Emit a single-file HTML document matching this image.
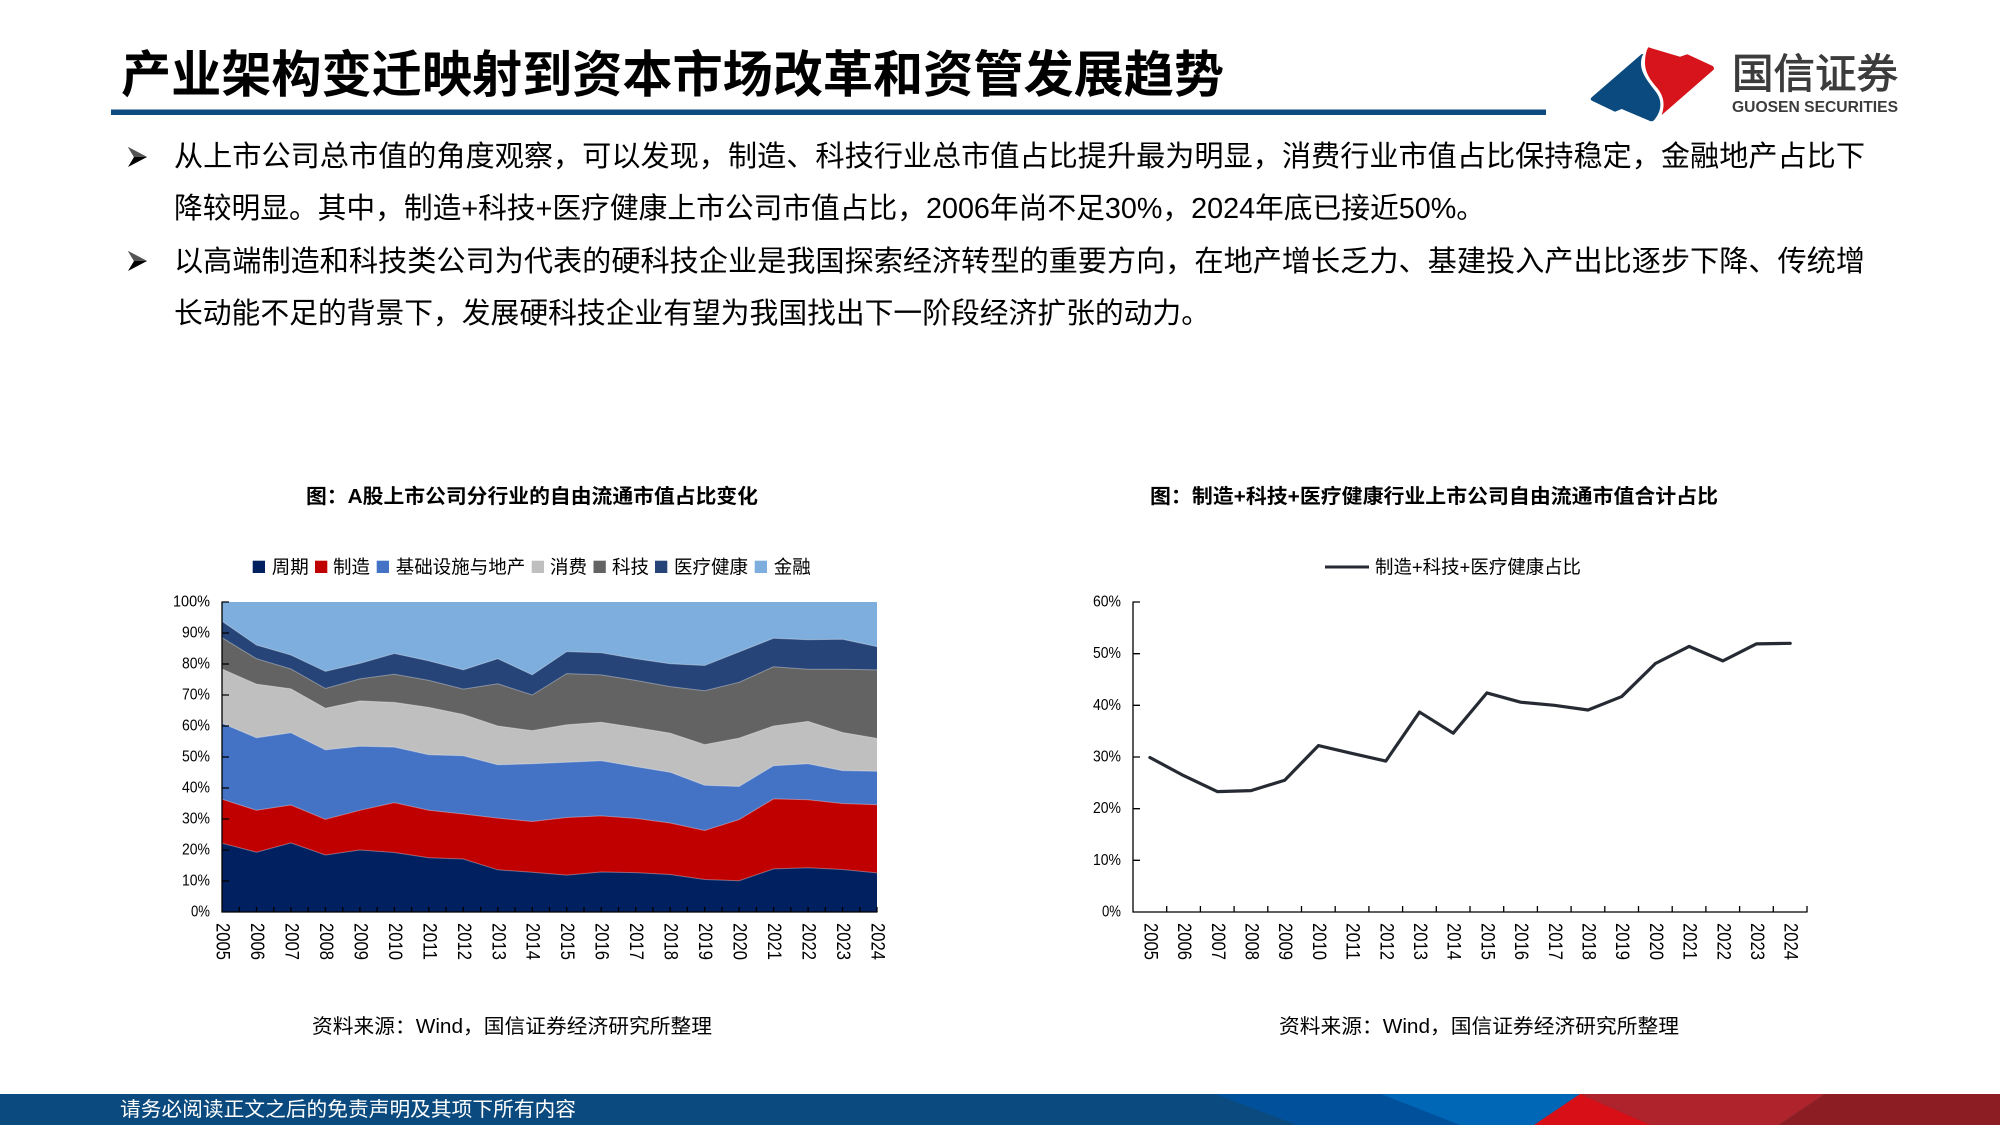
<!DOCTYPE html>
<html>
<head>
<meta charset="utf-8">
<style>
html,body{margin:0;padding:0;background:#fff;}
svg{display:block;}
text{font-family:"Liberation Sans","Noto Sans CJK SC",sans-serif;}
</style>
</head>
<body>
<svg width="2000" height="1125" viewBox="0 0 2000 1125" xmlns="http://www.w3.org/2000/svg">
<rect x="0" y="0" width="2000" height="1125" fill="#ffffff"/>

<!-- Title -->
<text x="121" y="75" font-size="50" font-weight="bold" fill="#000" dominant-baseline="central" textLength="1103" lengthAdjust="spacingAndGlyphs">产业架构变迁映射到资本市场改革和资管发展趋势</text>
<rect x="111" y="109.5" width="1435" height="5.5" fill="#0C4A80"/>

<!-- Logo -->
<path d="M1641.7,54 L1591.7,97.3 Q1589.5,99.5 1592,100.7 L1615,111.7 L1621.7,109 L1650,121 Q1653,122 1655,119 C1662,110 1662,100 1656,92 C1650,84 1641,74 1641,64 C1641,59 1642,56 1643.3,54 Z" fill="#0B4A7E"/>
<path d="M1648.3,47.3 L1680,56.7 L1687.3,54.3 L1712.7,66 Q1715,68 1713.3,70 L1661.7,115 C1665,105 1664,97 1658,89 C1651,81 1645,73 1645,63 C1645,57 1646,51 1648.3,47.3 Z" fill="#D7131B"/>
<text x="1732" y="74" font-size="41" fill="#3C3C3C" stroke="#3C3C3C" stroke-width="0.9" dominant-baseline="central" textLength="166" lengthAdjust="spacingAndGlyphs">国信证券</text>
<text x="1732" y="107.5" font-size="15.5" font-weight="bold" fill="#3C3C3C" dominant-baseline="central" textLength="166" lengthAdjust="spacingAndGlyphs">GUOSEN SECURITIES</text>

<!-- Bullets -->
<g>
<polygon points="128,147 147,157 128,167 134,157" fill="#000"/>
<polygon points="128,147 147,157 134,157" fill="#555"/>
<polygon points="128,251 147,261 128,271 134,261" fill="#000"/>
<polygon points="128,251 147,261 134,261" fill="#555"/>
</g>

<!-- Body text -->
<text x="174" y="157" font-size="29" fill="#000" dominant-baseline="central" textLength="1691" lengthAdjust="spacingAndGlyphs">从上市公司总市值的角度观察，可以发现，制造、科技行业总市值占比提升最为明显，消费行业市值占比保持稳定，金融地产占比下</text>
<text x="174" y="209" font-size="29" fill="#000" dominant-baseline="central" textLength="1311" lengthAdjust="spacingAndGlyphs">降较明显。其中，制造+科技+医疗健康上市公司市值占比，2006年尚不足30%，2024年底已接近50%。</text>
<text x="174" y="262" font-size="29" fill="#000" dominant-baseline="central" textLength="1691" lengthAdjust="spacingAndGlyphs">以高端制造和科技类公司为代表的硬科技企业是我国探索经济转型的重要方向，在地产增长乏力、基建投入产出比逐步下降、传统增</text>
<text x="174" y="314" font-size="29" fill="#000" dominant-baseline="central" textLength="1036" lengthAdjust="spacingAndGlyphs">长动能不足的背景下，发展硬科技企业有望为我国找出下一阶段经济扩张的动力。</text>

<!-- ============ LEFT CHART ============ -->
<text x="306" y="497" font-size="20" font-weight="bold" fill="#000" dominant-baseline="central" textLength="452" lengthAdjust="spacingAndGlyphs">图：A股上市公司分行业的自由流通市值占比变化</text>

<!-- legend -->
<g font-size="18.5" fill="#000">
<rect x="252.7" y="560.7" width="12.3" height="12.3" fill="#002060"/>
<text x="271.7" y="567" dominant-baseline="central">周期</text>
<rect x="315" y="560.7" width="12.3" height="12.3" fill="#C00000"/>
<text x="333" y="567" dominant-baseline="central">制造</text>
<rect x="376.7" y="560.7" width="12.3" height="12.3" fill="#4472C4"/>
<text x="395.7" y="567" dominant-baseline="central">基础设施与地产</text>
<rect x="531.7" y="560.7" width="12.3" height="12.3" fill="#BFBFBF"/>
<text x="550" y="567" dominant-baseline="central">消费</text>
<rect x="593.5" y="560.7" width="12.3" height="12.3" fill="#636363"/>
<text x="612" y="567" dominant-baseline="central">科技</text>
<rect x="655" y="560.7" width="12.3" height="12.3" fill="#264478"/>
<text x="674" y="567" dominant-baseline="central">医疗健康</text>
<rect x="754.7" y="560.7" width="12.3" height="12.3" fill="#7DAEDD"/>
<text x="773.7" y="567" dominant-baseline="central">金融</text>
</g>

<!-- areas -->
<rect x="222" y="602" width="655" height="310" fill="#7DAEDD"/>
<polygon fill="#264478" points="222,621.2 256.5,645.1 290.9,655.0 325.4,671.4 359.9,663.4 394.4,653.5 428.8,660.9 463.3,669.9 497.8,658.7 532.2,674.85 566.7,651.6 601.2,652.8 635.7,658.7 670.1,663.7 704.6,665.55 739.1,651.9 773.5,638.3 808.0,639.8 842.5,639.2 877,646.6 877,912 222,912"/>
<polygon fill="#636363" points="222,637.65 256.5,658.7 290.9,669.0 325.4,688.5 359.9,678.9 394.4,674.2 428.8,680.4 463.3,689.1 497.8,683.8 532.2,695.0 566.7,673.6 601.2,674.85 635.7,680.4 670.1,686.6 704.6,690.7 739.1,682.3 773.5,666.8 808.0,669.3 842.5,669.3 877,669.9 877,912 222,912"/>
<polygon fill="#BFBFBF" points="222,668.96 256.5,684.15 290.9,688.8 325.4,708.3 359.9,700.9 394.4,702.4 428.8,707.4 463.3,714.5 497.8,726.0 532.2,730.65 566.7,724.8 601.2,722.3 635.7,727.55 670.1,733.1 704.6,744.6 739.1,738.1 773.5,726.0 808.0,721.35 842.5,732.5 877,738.4 877,912 222,912"/>
<polygon fill="#4472C4" points="222,723.2 256.5,737.8 290.9,732.8 325.4,749.9 359.9,746.2 394.4,747.1 428.8,754.8 463.3,755.8 497.8,764.75 532.2,763.8 566.7,762.3 601.2,760.7 635.7,766.6 670.1,772.2 704.6,785.2 739.1,786.45 773.5,765.7 808.0,763.8 842.5,770.6 877,771.3 877,912 222,912"/>
<polygon fill="#C00000" points="222,799.2 256.5,810.3 290.9,805.0 325.4,819.3 359.9,810.3 394.4,802.6 428.8,810.3 463.3,814.0 497.8,818.1 532.2,821.5 566.7,817.5 601.2,815.9 635.7,818.4 670.1,823.0 704.6,830.5 739.1,819.6 773.5,798.9 808.0,799.8 842.5,803.5 877,804.7 877,912 222,912"/>
<polygon fill="#002060" points="222,843.2 256.5,852.2 290.9,842.9 325.4,855.0 359.9,850.0 394.4,852.5 428.8,857.75 463.3,859.0 497.8,869.8 532.2,872.3 566.7,875.1 601.2,872.0 635.7,872.6 670.1,874.5 704.6,879.45 739.1,880.7 773.5,868.9 808.0,867.7 842.5,869.5 877,872.9 877,912 222,912"/>
<g fill="none" stroke="#ffffff" stroke-opacity="0.35" stroke-width="1">
<polyline points="222,621.2 256.5,645.1 290.9,655.0 325.4,671.4 359.9,663.4 394.4,653.5 428.8,660.9 463.3,669.9 497.8,658.7 532.2,674.85 566.7,651.6 601.2,652.8 635.7,658.7 670.1,663.7 704.6,665.55 739.1,651.9 773.5,638.3 808.0,639.8 842.5,639.2 877,646.6"/>
<polyline points="222,637.65 256.5,658.7 290.9,669.0 325.4,688.5 359.9,678.9 394.4,674.2 428.8,680.4 463.3,689.1 497.8,683.8 532.2,695.0 566.7,673.6 601.2,674.85 635.7,680.4 670.1,686.6 704.6,690.7 739.1,682.3 773.5,666.8 808.0,669.3 842.5,669.3 877,669.9"/>
<polyline points="222,668.96 256.5,684.15 290.9,688.8 325.4,708.3 359.9,700.9 394.4,702.4 428.8,707.4 463.3,714.5 497.8,726.0 532.2,730.65 566.7,724.8 601.2,722.3 635.7,727.55 670.1,733.1 704.6,744.6 739.1,738.1 773.5,726.0 808.0,721.35 842.5,732.5 877,738.4"/>
<polyline points="222,723.2 256.5,737.8 290.9,732.8 325.4,749.9 359.9,746.2 394.4,747.1 428.8,754.8 463.3,755.8 497.8,764.75 532.2,763.8 566.7,762.3 601.2,760.7 635.7,766.6 670.1,772.2 704.6,785.2 739.1,786.45 773.5,765.7 808.0,763.8 842.5,770.6 877,771.3"/>
<polyline points="222,799.2 256.5,810.3 290.9,805.0 325.4,819.3 359.9,810.3 394.4,802.6 428.8,810.3 463.3,814.0 497.8,818.1 532.2,821.5 566.7,817.5 601.2,815.9 635.7,818.4 670.1,823.0 704.6,830.5 739.1,819.6 773.5,798.9 808.0,799.8 842.5,803.5 877,804.7"/>
<polyline points="222,843.2 256.5,852.2 290.9,842.9 325.4,855.0 359.9,850.0 394.4,852.5 428.8,857.75 463.3,859.0 497.8,869.8 532.2,872.3 566.7,875.1 601.2,872.0 635.7,872.6 670.1,874.5 704.6,879.45 739.1,880.7 773.5,868.9 808.0,867.7 842.5,869.5 877,872.9"/>
</g>

<!-- left axes -->
<g stroke="#000" stroke-width="1.3" fill="none">
<line x1="222" y1="601.5" x2="222" y2="912.5"/>
<line x1="221.5" y1="912" x2="877.5" y2="912"/>
<path d="M222,602h7 M222,633h7 M222,664h7 M222,695h7 M222,726h7 M222,757h7 M222,788h7 M222,819h7 M222,850h7 M222,881h7"/>
<path d="M239.2,912v-5 M256.5,912v-5 M273.7,912v-5 M290.9,912v-5 M308.2,912v-5 M325.4,912v-5 M342.7,912v-5 M359.9,912v-5 M377.1,912v-5 M394.4,912v-5 M411.6,912v-5 M428.8,912v-5 M446.1,912v-5 M463.3,912v-5 M480.6,912v-5 M497.8,912v-5 M515.0,912v-5 M532.3,912v-5 M549.5,912v-5 M566.7,912v-5 M584.0,912v-5 M601.2,912v-5 M618.5,912v-5 M635.7,912v-5 M652.9,912v-5 M670.2,912v-5 M687.4,912v-5 M704.6,912v-5 M721.9,912v-5 M739.1,912v-5 M756.4,912v-5 M773.6,912v-5 M790.8,912v-5 M808.1,912v-5 M825.3,912v-5 M842.5,912v-5 M859.8,912v-5 M877.0,912v-5"/>
</g>
<g font-size="16" fill="#000" text-anchor="end" dominant-baseline="central">
<text x="210" y="602" textLength="37" lengthAdjust="spacingAndGlyphs">100%</text>
<text x="210" y="633" textLength="28" lengthAdjust="spacingAndGlyphs">90%</text>
<text x="210" y="664" textLength="28" lengthAdjust="spacingAndGlyphs">80%</text>
<text x="210" y="695" textLength="28" lengthAdjust="spacingAndGlyphs">70%</text>
<text x="210" y="726" textLength="28" lengthAdjust="spacingAndGlyphs">60%</text>
<text x="210" y="757" textLength="28" lengthAdjust="spacingAndGlyphs">50%</text>
<text x="210" y="788" textLength="28" lengthAdjust="spacingAndGlyphs">40%</text>
<text x="210" y="819" textLength="28" lengthAdjust="spacingAndGlyphs">30%</text>
<text x="210" y="850" textLength="28" lengthAdjust="spacingAndGlyphs">20%</text>
<text x="210" y="881" textLength="28" lengthAdjust="spacingAndGlyphs">10%</text>
<text x="210" y="912" textLength="19" lengthAdjust="spacingAndGlyphs">0%</text>
</g>
<g font-size="19" fill="#000" dominant-baseline="central">
<text transform="translate(222,923) rotate(90)" textLength="37" lengthAdjust="spacingAndGlyphs">2005</text>
<text transform="translate(256.5,923) rotate(90)" textLength="37" lengthAdjust="spacingAndGlyphs">2006</text>
<text transform="translate(290.9,923) rotate(90)" textLength="37" lengthAdjust="spacingAndGlyphs">2007</text>
<text transform="translate(325.4,923) rotate(90)" textLength="37" lengthAdjust="spacingAndGlyphs">2008</text>
<text transform="translate(359.9,923) rotate(90)" textLength="37" lengthAdjust="spacingAndGlyphs">2009</text>
<text transform="translate(394.4,923) rotate(90)" textLength="37" lengthAdjust="spacingAndGlyphs">2010</text>
<text transform="translate(428.8,923) rotate(90)" textLength="37" lengthAdjust="spacingAndGlyphs">2011</text>
<text transform="translate(463.3,923) rotate(90)" textLength="37" lengthAdjust="spacingAndGlyphs">2012</text>
<text transform="translate(497.8,923) rotate(90)" textLength="37" lengthAdjust="spacingAndGlyphs">2013</text>
<text transform="translate(532.2,923) rotate(90)" textLength="37" lengthAdjust="spacingAndGlyphs">2014</text>
<text transform="translate(566.7,923) rotate(90)" textLength="37" lengthAdjust="spacingAndGlyphs">2015</text>
<text transform="translate(601.2,923) rotate(90)" textLength="37" lengthAdjust="spacingAndGlyphs">2016</text>
<text transform="translate(635.7,923) rotate(90)" textLength="37" lengthAdjust="spacingAndGlyphs">2017</text>
<text transform="translate(670.1,923) rotate(90)" textLength="37" lengthAdjust="spacingAndGlyphs">2018</text>
<text transform="translate(704.6,923) rotate(90)" textLength="37" lengthAdjust="spacingAndGlyphs">2019</text>
<text transform="translate(739.1,923) rotate(90)" textLength="37" lengthAdjust="spacingAndGlyphs">2020</text>
<text transform="translate(773.5,923) rotate(90)" textLength="37" lengthAdjust="spacingAndGlyphs">2021</text>
<text transform="translate(808.0,923) rotate(90)" textLength="37" lengthAdjust="spacingAndGlyphs">2022</text>
<text transform="translate(842.5,923) rotate(90)" textLength="37" lengthAdjust="spacingAndGlyphs">2023</text>
<text transform="translate(877,923) rotate(90)" textLength="37" lengthAdjust="spacingAndGlyphs">2024</text>
</g>

<text x="312" y="1027" font-size="20" fill="#000" dominant-baseline="central" textLength="400" lengthAdjust="spacingAndGlyphs">资料来源：Wind，国信证券经济研究所整理</text>

<!-- ============ RIGHT CHART ============ -->
<text x="1150" y="497" font-size="20" font-weight="bold" fill="#000" dominant-baseline="central" textLength="568" lengthAdjust="spacingAndGlyphs">图：制造+科技+医疗健康行业上市公司自由流通市值合计占比</text>

<line x1="1325" y1="567" x2="1369" y2="567" stroke="#262B33" stroke-width="3"/>
<text x="1375" y="567" font-size="18.5" fill="#000" dominant-baseline="central" textLength="206" lengthAdjust="spacingAndGlyphs">制造+科技+医疗健康占比</text>

<g stroke="#000" stroke-width="1.3" fill="none">
<line x1="1133" y1="601.5" x2="1133" y2="912.5"/>
<line x1="1132.5" y1="912" x2="1807.5" y2="912"/>
<path d="M1133,602h7 M1133,653.7h7 M1133,705.3h7 M1133,757h7 M1133,808.7h7 M1133,860.3h7"/>
<path d="M1166.7,912v-6 M1200.4,912v-6 M1234.1,912v-6 M1267.8,912v-6 M1301.5,912v-6 M1335.2,912v-6 M1368.9,912v-6 M1402.6,912v-6 M1436.3,912v-6 M1470,912v-6 M1503.7,912v-6 M1537.4,912v-6 M1571.1,912v-6 M1604.8,912v-6 M1638.5,912v-6 M1672.2,912v-6 M1705.9,912v-6 M1739.6,912v-6 M1773.3,912v-6 M1807,912v-6"/>
</g>
<g font-size="16" fill="#000" text-anchor="end" dominant-baseline="central">
<text x="1121" y="602" textLength="28" lengthAdjust="spacingAndGlyphs">60%</text>
<text x="1121" y="653.7" textLength="28" lengthAdjust="spacingAndGlyphs">50%</text>
<text x="1121" y="705.3" textLength="28" lengthAdjust="spacingAndGlyphs">40%</text>
<text x="1121" y="757" textLength="28" lengthAdjust="spacingAndGlyphs">30%</text>
<text x="1121" y="808.7" textLength="28" lengthAdjust="spacingAndGlyphs">20%</text>
<text x="1121" y="860.3" textLength="28" lengthAdjust="spacingAndGlyphs">10%</text>
<text x="1121" y="912" textLength="19" lengthAdjust="spacingAndGlyphs">0%</text>
</g>

<polyline fill="none" stroke="#262B33" stroke-width="3.2" stroke-linejoin="round" stroke-linecap="round" points="1149.9,757.5 1183.6,775.6 1217.3,791.6 1251.0,790.6 1284.7,780.25 1318.4,745.6 1352.1,753.4 1385.8,761.1 1419.5,712.05 1453.2,733.2 1486.9,692.9 1520.6,702.2 1554.3,705.3 1588.0,710.0 1621.7,696.55 1655.4,663.5 1689.1,646.4 1722.8,660.9 1756.5,643.85 1790.2,643.3"/>

<g font-size="19" fill="#000" dominant-baseline="central">
<text transform="translate(1149.9,923) rotate(90)" textLength="37" lengthAdjust="spacingAndGlyphs">2005</text>
<text transform="translate(1183.6,923) rotate(90)" textLength="37" lengthAdjust="spacingAndGlyphs">2006</text>
<text transform="translate(1217.3,923) rotate(90)" textLength="37" lengthAdjust="spacingAndGlyphs">2007</text>
<text transform="translate(1251.0,923) rotate(90)" textLength="37" lengthAdjust="spacingAndGlyphs">2008</text>
<text transform="translate(1284.7,923) rotate(90)" textLength="37" lengthAdjust="spacingAndGlyphs">2009</text>
<text transform="translate(1318.4,923) rotate(90)" textLength="37" lengthAdjust="spacingAndGlyphs">2010</text>
<text transform="translate(1352.1,923) rotate(90)" textLength="37" lengthAdjust="spacingAndGlyphs">2011</text>
<text transform="translate(1385.8,923) rotate(90)" textLength="37" lengthAdjust="spacingAndGlyphs">2012</text>
<text transform="translate(1419.5,923) rotate(90)" textLength="37" lengthAdjust="spacingAndGlyphs">2013</text>
<text transform="translate(1453.2,923) rotate(90)" textLength="37" lengthAdjust="spacingAndGlyphs">2014</text>
<text transform="translate(1486.9,923) rotate(90)" textLength="37" lengthAdjust="spacingAndGlyphs">2015</text>
<text transform="translate(1520.6,923) rotate(90)" textLength="37" lengthAdjust="spacingAndGlyphs">2016</text>
<text transform="translate(1554.3,923) rotate(90)" textLength="37" lengthAdjust="spacingAndGlyphs">2017</text>
<text transform="translate(1588.0,923) rotate(90)" textLength="37" lengthAdjust="spacingAndGlyphs">2018</text>
<text transform="translate(1621.7,923) rotate(90)" textLength="37" lengthAdjust="spacingAndGlyphs">2019</text>
<text transform="translate(1655.4,923) rotate(90)" textLength="37" lengthAdjust="spacingAndGlyphs">2020</text>
<text transform="translate(1689.1,923) rotate(90)" textLength="37" lengthAdjust="spacingAndGlyphs">2021</text>
<text transform="translate(1722.8,923) rotate(90)" textLength="37" lengthAdjust="spacingAndGlyphs">2022</text>
<text transform="translate(1756.5,923) rotate(90)" textLength="37" lengthAdjust="spacingAndGlyphs">2023</text>
<text transform="translate(1790.2,923) rotate(90)" textLength="37" lengthAdjust="spacingAndGlyphs">2024</text>
</g>

<text x="1279" y="1027" font-size="20" fill="#000" dominant-baseline="central" textLength="400" lengthAdjust="spacingAndGlyphs">资料来源：Wind，国信证券经济研究所整理</text>

<!-- Footer -->
<rect x="0" y="1094" width="2000" height="31" fill="#0B4A7E"/>
<polygon points="1215,1094 1580,1094 1534,1125 1297,1125" fill="#00509C"/>
<polygon points="1381,1094 1580,1094 1534,1125 1460,1125" fill="#0067B6"/>
<polygon points="1580,1094 1825,1094 1779,1125 1651,1125" fill="#AE232C"/>
<polygon points="1580,1094 1651,1125 1534,1125" fill="#D90F18"/>
<polygon points="1825,1094 2000,1094 2000,1125 1779,1125" fill="#8C1D22"/>
<text x="120" y="1110" font-size="20" fill="#ffffff" dominant-baseline="central" textLength="456" lengthAdjust="spacingAndGlyphs">请务必阅读正文之后的免责声明及其项下所有内容</text>
</svg>
</body>
</html>
